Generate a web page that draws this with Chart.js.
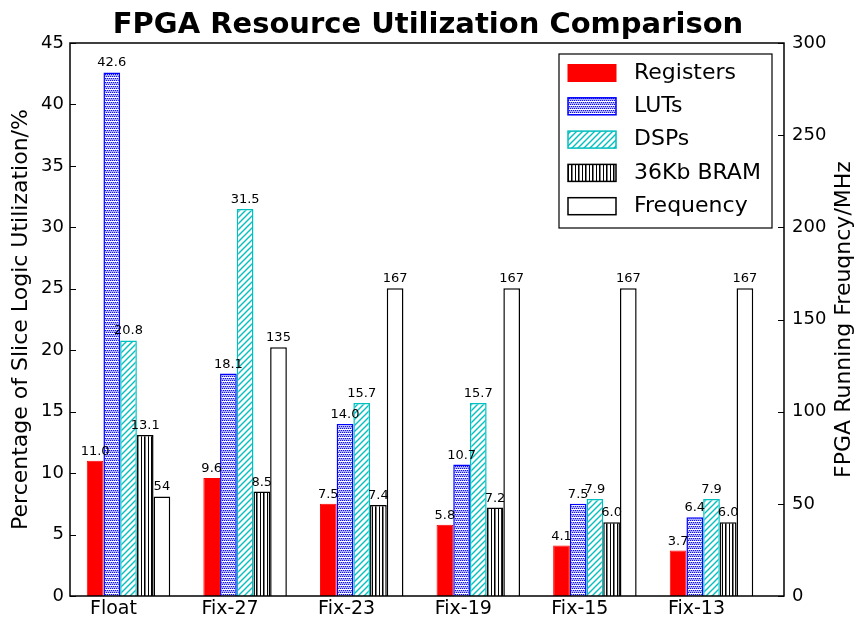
<!DOCTYPE html>
<html><head><meta charset="utf-8">
<script src="https://cdn.jsdelivr.net/npm/chart.js@4.4.1/dist/chart.umd.min.js"></script>
<style>html,body{margin:0;padding:0;background:#fff}#wrap{width:856px;height:620px;position:relative}</style>
</head><body><div id="wrap"><canvas id="c"></canvas></div>
<script>
const categories = ['Float', 'Fix-27', 'Fix-23', 'Fix-19', 'Fix-15', 'Fix-13'];
const registers = [11.0, 9.6, 7.5, 5.8, 4.1, 3.7];
const luts = [42.6, 18.1, 14.0, 10.7, 7.5, 6.4];
const dsps = [20.8, 31.5, 15.7, 15.7, 7.9, 7.9];
const bram = [13.1, 8.5, 7.4, 7.2, 6.0, 6.0];
const frequency = [54, 135, 167, 167, 167, 167];
const leftTicks = [0, 5, 10, 15, 20, 25, 30, 35, 40, 45];
const rightTicks = [0, 50, 100, 150, 200, 250, 300];
const seriesNames = ['Registers', 'LUTs', 'DSPs', '36Kb BRAM', 'Frequency'];

const FONT = "'DejaVu Sans', sans-serif";
const canvas = document.getElementById('c');
const mainCtx = canvas.getContext('2d');

function makePattern(w, h, draw) {
  const c = document.createElement('canvas');
  c.width = w; c.height = h;
  const g = c.getContext('2d');
  g.fillStyle = '#ffffff';
  g.fillRect(0, 0, w, h);
  draw(g);
  return mainCtx.createPattern(c, 'repeat');
}
const lutPattern = makePattern(4, 4, g => {
  g.fillStyle = '#aeaeff';
  g.fillRect(0, 0, 4, 4);
  g.fillStyle = '#1010ff';
  g.fillRect(0, 0, 1, 1); g.fillRect(2, 0, 1, 1);
  g.fillRect(1, 2, 1, 1); g.fillRect(3, 2, 1, 1);
  g.fillStyle = '#ffffff';
  g.fillRect(0, 1, 4, 1);
});
const dspPattern = makePattern(6, 6, g => {
  g.strokeStyle = '#00bfbf';
  g.lineWidth = 1.4;
  g.beginPath();
  g.moveTo(-1, 7); g.lineTo(7, -1);
  g.moveTo(-4, 4); g.lineTo(4, -4);
  g.moveTo(2, 10); g.lineTo(10, 2);
  g.stroke();
});
const bramPattern = makePattern(7, 3, g => {
  g.fillStyle = '#000000';
  g.fillRect(1, 0, 1, 3);
  g.fillRect(4, 0, 1, 3);
  g.fillStyle = '#777777';
  g.fillRect(5, 0, 1, 3);
});

// x positions of the groups (index values); tick labels sit a little left of the group centre
const groupIndex = categories.map((c, i) => i);
const labelShift = 0.129;

function pts(arr) { return arr.map((v, i) => ({ x: groupIndex[i], y: v })); }

const datasets = [
  { label: seriesNames[0], data: pts(registers), yAxisID: 'y', backgroundColor: '#ff0000', borderColor: '#ff0000', borderWidth: 1, fmt: v => v.toFixed(1) },
  { label: seriesNames[1], data: pts(luts), yAxisID: 'y', backgroundColor: lutPattern, borderColor: '#0000ff', borderWidth: 1.5, fmt: v => v.toFixed(1) },
  { label: seriesNames[2], data: pts(dsps), yAxisID: 'y', backgroundColor: dspPattern, borderColor: '#00bfbf', borderWidth: 1.5, fmt: v => v.toFixed(1) },
  { label: seriesNames[3], data: pts(bram), yAxisID: 'y', backgroundColor: bramPattern, borderColor: '#000000', borderWidth: 1.5, fmt: v => v.toFixed(1) },
  { label: seriesNames[4], data: pts(frequency), yAxisID: 'y2', backgroundColor: '#ffffff', borderColor: '#000000', borderWidth: 1.5, fmt: v => String(Math.round(v)) }
];

const decorPlugin = {
  id: 'decor',
  afterDatasetsDraw(chart) {
    const ctx = chart.ctx;
    const a = chart.chartArea;
    ctx.save();
    // value labels
    ctx.fillStyle = '#000';
    ctx.font = '13px ' + FONT;
    ctx.textAlign = 'center';
    ctx.textBaseline = 'alphabetic';
    chart.data.datasets.forEach((ds, di) => {
      const meta = chart.getDatasetMeta(di);
      meta.data.forEach((el, i) => {
        ctx.fillText(ds.fmt(ds.data[i].y), el.x, el.y - 6);
      });
    });
    // frame
    ctx.strokeStyle = '#000';
    ctx.lineWidth = 1.5;
    ctx.strokeRect(a.left, a.top, a.right - a.left, a.bottom - a.top);
    // inward ticks
    ctx.lineWidth = 1;
    const ys = chart.scales.y, y2 = chart.scales.y2;
    leftTicks.forEach(v => {
      const py = Math.round(ys.getPixelForValue(v)) + 0.5;
      ctx.beginPath(); ctx.moveTo(a.left, py); ctx.lineTo(a.left + 6, py); ctx.stroke();
    });
    rightTicks.forEach(v => {
      const py = Math.round(y2.getPixelForValue(v)) + 0.5;
      ctx.beginPath(); ctx.moveTo(a.right, py); ctx.lineTo(a.right - 6, py); ctx.stroke();
    });
    // legend
    const bx = a.right - 225, by = a.top + 11, bw = 213, bh = 174;
    ctx.fillStyle = '#fff';
    ctx.fillRect(bx, by, bw, bh);
    ctx.lineWidth = 1.2;
    ctx.strokeStyle = '#000';
    ctx.strokeRect(bx, by, bw, bh);
    ctx.font = '22px ' + FONT;
    ctx.textAlign = 'left';
    ctx.textBaseline = 'middle';
    chart.data.datasets.forEach((ds, i) => {
      const cy = by + 19 + i * 33.3;
      ctx.fillStyle = ds.backgroundColor;
      ctx.fillRect(bx + 9, cy - 8.5, 48, 17);
      ctx.strokeStyle = ds.borderColor;
      ctx.lineWidth = ds.borderWidth;
      ctx.strokeRect(bx + 9, cy - 8.5, 48, 17);
      ctx.fillStyle = '#000';
      ctx.fillText(ds.label, bx + 75, cy);
    });
    // right axis title (reads bottom to top)
    ctx.save();
    ctx.translate(a.right + 60, (a.top + a.bottom) / 2);
    ctx.rotate(-Math.PI / 2);
    ctx.textAlign = 'center';
    ctx.textBaseline = 'middle';
    ctx.font = '22px ' + FONT;
    ctx.fillStyle = '#000';
    ctx.fillText('FPGA Running Freuqncy/MHz', 0, 0);
    ctx.restore();
    ctx.restore();
  }
};

new Chart(canvas, {
  type: 'bar',
  data: { datasets },
  options: {
    responsive: true,
    maintainAspectRatio: false,
    animation: false,
    devicePixelRatio: 1,
    layout: { padding: 0 },
    datasets: { bar: { categoryPercentage: 0.716, barPercentage: 1.0 } },
    plugins: {
      legend: { display: false },
      tooltip: { enabled: false },
      title: {
        display: true,
        text: 'FPGA Resource Utilization Comparison',
        color: '#000',
        font: { family: FONT, size: 29, weight: 'bold', lineHeight: 1.2 },
        padding: { top: 8, bottom: 0.2 }
      }
    },
    scales: {
      x: {
        type: 'linear',
        min: -0.5017,
        max: 5.6218,
        offset: false,
        grid: { display: false, drawTicks: false },
        border: { display: false },
        afterBuildTicks: s => { s.ticks = categories.map((c, i) => ({ value: i - labelShift })); },
        afterFit: s => { s.height = 24; },
        ticks: {
          color: '#000', padding: 2, maxRotation: 0, autoSkip: false,
          font: { family: FONT, size: 19 },
          callback: (v, i) => categories[i]
        }
      },
      y: {
        position: 'left',
        min: 0, max: 45,
        grid: { display: false, drawTicks: false },
        border: { display: false },
        afterBuildTicks: s => { s.ticks = leftTicks.map(v => ({ value: v })); },
        afterFit: s => { s.width = 70; },
        ticks: { color: '#000', padding: 6, font: { family: FONT, size: 18 } },
        title: {
          display: true,
          text: 'Percentage of Slice Logic Utilization/%',
          color: '#000',
          font: { family: FONT, size: 22, lineHeight: 1.2 },
          padding: { top: 8, bottom: 0 }
        }
      },
      y2: {
        position: 'right',
        min: 0, max: 300,
        grid: { display: false, drawTicks: false },
        border: { display: false },
        afterBuildTicks: s => { s.ticks = rightTicks.map(v => ({ value: v })); },
        afterFit: s => { s.width = 72; },
        ticks: { color: '#000', padding: 8, font: { family: FONT, size: 18 } }
      }
    }
  },
  plugins: [decorPlugin]
});
</script>
</body></html>
